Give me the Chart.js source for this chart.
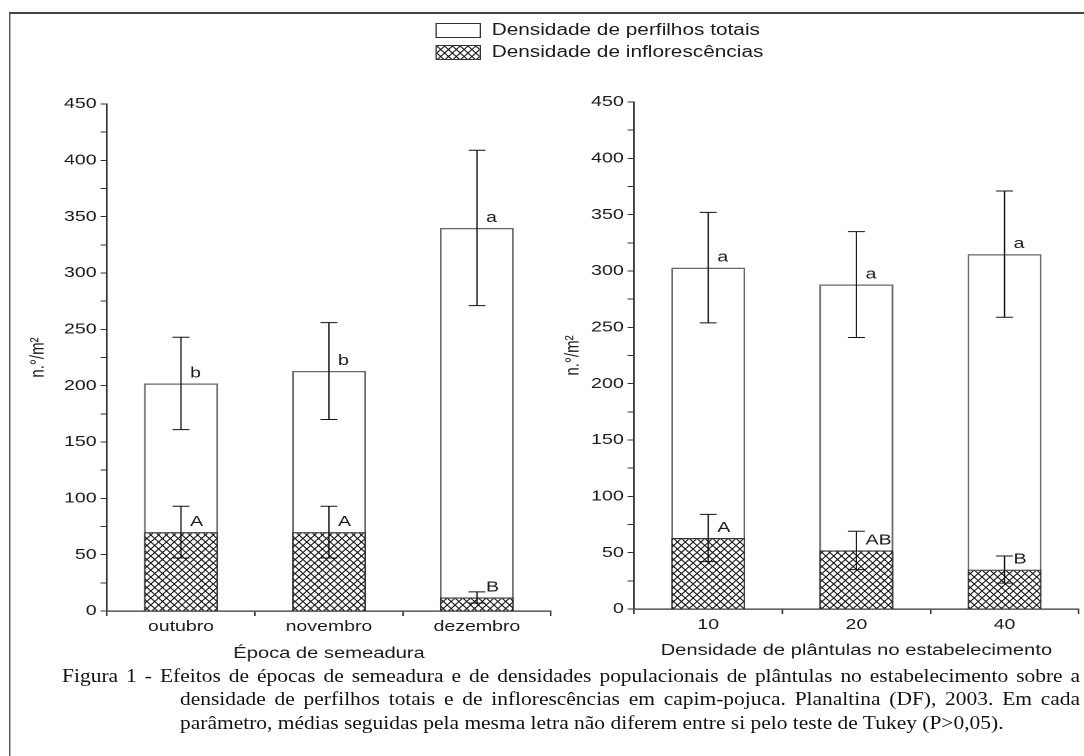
<!DOCTYPE html>
<html lang="pt">
<head>
<meta charset="utf-8">
<title>Figura 1 - capim-pojuca</title>
<script src="https://cdn.jsdelivr.net/npm/chart.js@4.4.1/dist/chart.umd.min.js"></script>
<style>
  html, body { margin: 0; padding: 0; background: #fff; }
  body { width: 1084px; height: 756px; overflow: hidden; position: relative; }
  /* the original figure is stretched sideways, so everything is laid out narrow and scaled */
  #fig {
    position: absolute; left: 0; top: 0; width: 834px; height: 756px;
    transform: scaleX(1.3); transform-origin: 0 0;
    font-family: "Liberation Sans", Arial, sans-serif; color: #1a1a1a;
  }
  .frame {
    position: absolute; left: 7.2px; top: 12px; width: 840px; height: 760px;
    border-left: 1.6px solid #444; border-top: 2px solid #444;
  }
  .legend { position: absolute; left: 334.6px; top: 22px; font-size: 16px; }
  .legend .row { position: absolute; left: 0; height: 16px; white-space: nowrap; }
  .legend .box { position: absolute; left: 0; top: 0; width: 33px; height: 13px; border: 1px solid #333; background: #fff; }
  .legend canvas.box { width: 33px; height: 13px; }
  .legend span { position: absolute; left: 43.6px; top: -2px; line-height: 18px; }
  .wrap { position: absolute; }
  #caption {
    position: absolute; left: 0; top: 0; width: 960px; height: 756px;
    transform: scaleX(1.13); transform-origin: 0 0;
    font-family: "Liberation Serif", "Times New Roman", serif;
    font-size: 19px; line-height: 23.5px; color: #111;
  }
  #caption div { position: absolute; white-space: nowrap; }
  #caption .just { text-align: justify; text-align-last: justify; white-space: normal; }
</style>
</head>
<body>
<div id="fig">
  <div class="frame"></div>

  <div class="legend">
    <div class="row" style="top:1px"><div class="box"></div><span>Densidade de perfilhos totais</span></div>
    <div class="row" style="top:23px"><canvas class="box" id="legendHatch"></canvas><span>Densidade de inflorescências</span></div>
  </div>

  <div class="wrap" style="left:8px; top:80px; width:426px; height:590px"><canvas id="chartEpoca"></canvas></div>
  <div class="wrap" style="left:425px; top:80px; width:408.8px; height:590px"><canvas id="chartDensidade"></canvas></div>
</div>

<div id="caption">
  <div class="just" style="left:54.9px; top:663.5px; width:901px">Figura 1 - Efeitos de épocas de semeadura e de densidades populacionais de plântulas no estabelecimento sobre a</div>
  <div class="just" style="left:159.3px; top:687px; width:796.5px">densidade de perfilhos totais e de inflorescências em capim-pojuca. Planaltina (DF), 2003. Em cada</div>
  <div style="left:159.3px; top:710.5px">parâmetro, médias seguidas pela mesma letra não diferem entre si pelo teste de Tukey (P&gt;0,05).</div>
</div>

<script>
// Época de semeadura
const epocas = ["outubro", "novembro", "dezembro"];
const perfilhosEpoca = [202, 213, 340];
const perfilhosEpocaErr = [41, 43, 69];
const inflorEpoca = [70, 70, 12];
const inflorEpocaErr = [23, 23, 5];
const letrasPerfEpoca = ["b", "b", "a"];
const letrasInflEpoca = ["A", "A", "B"];

// Densidade de plântulas no estabelecimento
const densidades = ["10", "20", "40"];
const perfilhosDens = [303, 288, 315];
const perfilhosDensErr = [49, 47, 56];
const inflorDens = [63, 52, 35];
const inflorDensErr = [21, 17, 12];
const letrasPerfDens = ["a", "a", "a"];
const letrasInflDens = ["A", "AB", "B"];

// y axis: 0..450, labels every 50, marks every 25
const yMax = 450;
const yLabelStep = 50;
const yMarkStep = 25;

const DPR = 2;
const ink = "#1a1a1a";

Chart.defaults.font.family = '"Liberation Sans", Arial, sans-serif';
Chart.defaults.color = ink;

// cross-hatch tile, drawn at DPR resolution and scaled back down
function makeHatch(ctx) {
  const w = 6, h = 7;
  const c = document.createElement("canvas");
  c.width = w * DPR;
  c.height = h * DPR;
  const g = c.getContext("2d");
  g.scale(DPR, DPR);
  g.strokeStyle = "#111";
  g.lineWidth = 0.9;
  for (const ox of [-w, 0, w]) {
    for (const oy of [-h, 0, h]) {
      g.beginPath();
      g.moveTo(ox, oy); g.lineTo(ox + w, oy + h);
      g.moveTo(ox + w, oy); g.lineTo(ox, oy + h);
      g.stroke();
    }
  }
  const p = ctx.createPattern(c, "repeat");
  p.setTransform(new DOMMatrix().scale(1 / DPR, 1 / DPR));
  return p;
}

function errorPlugin(sets) {
  return {
    id: "errorBars",
    afterDatasetsDraw(chart) {
      const { ctx, scales: { x, y } } = chart;
      ctx.save();
      ctx.strokeStyle = "#111";
      ctx.lineWidth = 1.0;
      ctx.fillStyle = ink;
      ctx.font = '15px "Liberation Sans", Arial, sans-serif';
      ctx.textBaseline = "alphabetic";
      ctx.textAlign = "left";
      sets.forEach(s => {
        s.values.forEach((v, i) => {
          const cx = x.getPixelForValue(i);
          const yt = y.getPixelForValue(v + s.err[i]);
          const yb = y.getPixelForValue(v - s.err[i]);
          const cap = 6.5;
          ctx.beginPath();
          ctx.moveTo(cx, yt); ctx.lineTo(cx, yb);
          ctx.moveTo(cx - cap, yt); ctx.lineTo(cx + cap, yt);
          ctx.moveTo(cx - cap, yb); ctx.lineTo(cx + cap, yb);
          ctx.stroke();
          ctx.fillText(s.letters[i], cx + 7, y.getPixelForValue(v) - 6);
        });
      });
      ctx.restore();
    }
  };
}

function buildChart(id, labels, totals, totalsErr, inflor, inflorErr, letTot, letInf, xTitle, lay) {
  const ctx = document.getElementById(id).getContext("2d");
  const hatch = makeHatch(ctx);
  return new Chart(ctx, {
    type: "bar",
    data: {
      labels: labels,
      datasets: [
        {
          label: "Densidade de perfilhos totais",
          data: totals,
          backgroundColor: "#ffffff",
          borderColor: "#6a6a6a",
          borderWidth: { top: 1.4, left: 1.4, right: 1.4, bottom: 0 },
          borderSkipped: false,
          grouped: false,
          order: 2,
          barPercentage: 0.5,
          categoryPercentage: 1
        },
        {
          label: "Densidade de inflorescências",
          data: inflor,
          backgroundColor: hatch,
          borderColor: "#333",
          borderWidth: { top: 1.2, left: 0.8, right: 0.8, bottom: 0 },
          borderSkipped: false,
          grouped: false,
          order: 1,
          barPercentage: 0.5,
          categoryPercentage: 1
        }
      ]
    },
    options: {
      responsive: true,
      maintainAspectRatio: false,
      animation: false,
      devicePixelRatio: DPR,
      layout: { padding: lay.padding },
      plugins: {
        legend: { display: false },
        tooltip: { enabled: false }
      },
      scales: {
        x: {
          offset: true,
          grid: { offset: true, drawOnChartArea: false, tickLength: 5, color: "#333", lineWidth: 1.2 },
          border: { display: true, color: "#333", width: 1.3 },
          ticks: { font: { size: 15 }, padding: 2, color: ink },
          title: { display: true, text: xTitle, font: { size: 15.5 }, padding: 0, color: ink },
          afterFit: s => { s.height = lay.xHeight; }
        },
        y: {
          min: 0,
          max: yMax,
          grid: { drawOnChartArea: false, tickLength: 5, color: "#333", lineWidth: 1 },
          border: { display: true, color: "#333", width: 1.3 },
          ticks: {
            stepSize: yMarkStep,
            autoSkip: false,
            padding: 3,
            font: { size: 15 },
            color: ink,
            callback: v => (v % yLabelStep === 0 ? v : "")
          },
          title: { display: true, text: "n.°/m²", font: { size: 15 }, padding: 0, color: ink },
          afterFit: s => { s.width = lay.yWidth; }
        }
      }
    },
    plugins: [errorPlugin([
      { values: totals, err: totalsErr, letters: letTot },
      { values: inflor, err: inflorErr, letters: letInf }
    ])]
  });
}

buildChart("chartEpoca", epocas, perfilhosEpoca, perfilhosEpocaErr, inflorEpoca, inflorEpocaErr,
  letrasPerfEpoca, letrasInflEpoca, "Época de semeadura",
  { padding: { left: 12.2, right: 10.2, top: 24, bottom: 7 }, yWidth: 62.1, xHeight: 52 });

buildChart("chartDensidade", densidades, perfilhosDens, perfilhosDensErr, inflorDens, inflorDensErr,
  letrasPerfDens, letrasInflDens, "Densidade de plântulas no estabelecimento",
  { padding: { left: 6.8, right: 4.6, top: 22, bottom: 10 }, yWidth: 55.9, xHeight: 51 });

// legend swatch with the same hatch
const lc = document.getElementById("legendHatch");
lc.width = 33 * DPR;
lc.height = 13 * DPR;
const lctx = lc.getContext("2d");
lctx.fillStyle = makeHatch(lctx);
lctx.setTransform(DPR, 0, 0, DPR, 0, 0);
lctx.fillRect(0, 0, 33, 13);
</script>
</body>
</html>
